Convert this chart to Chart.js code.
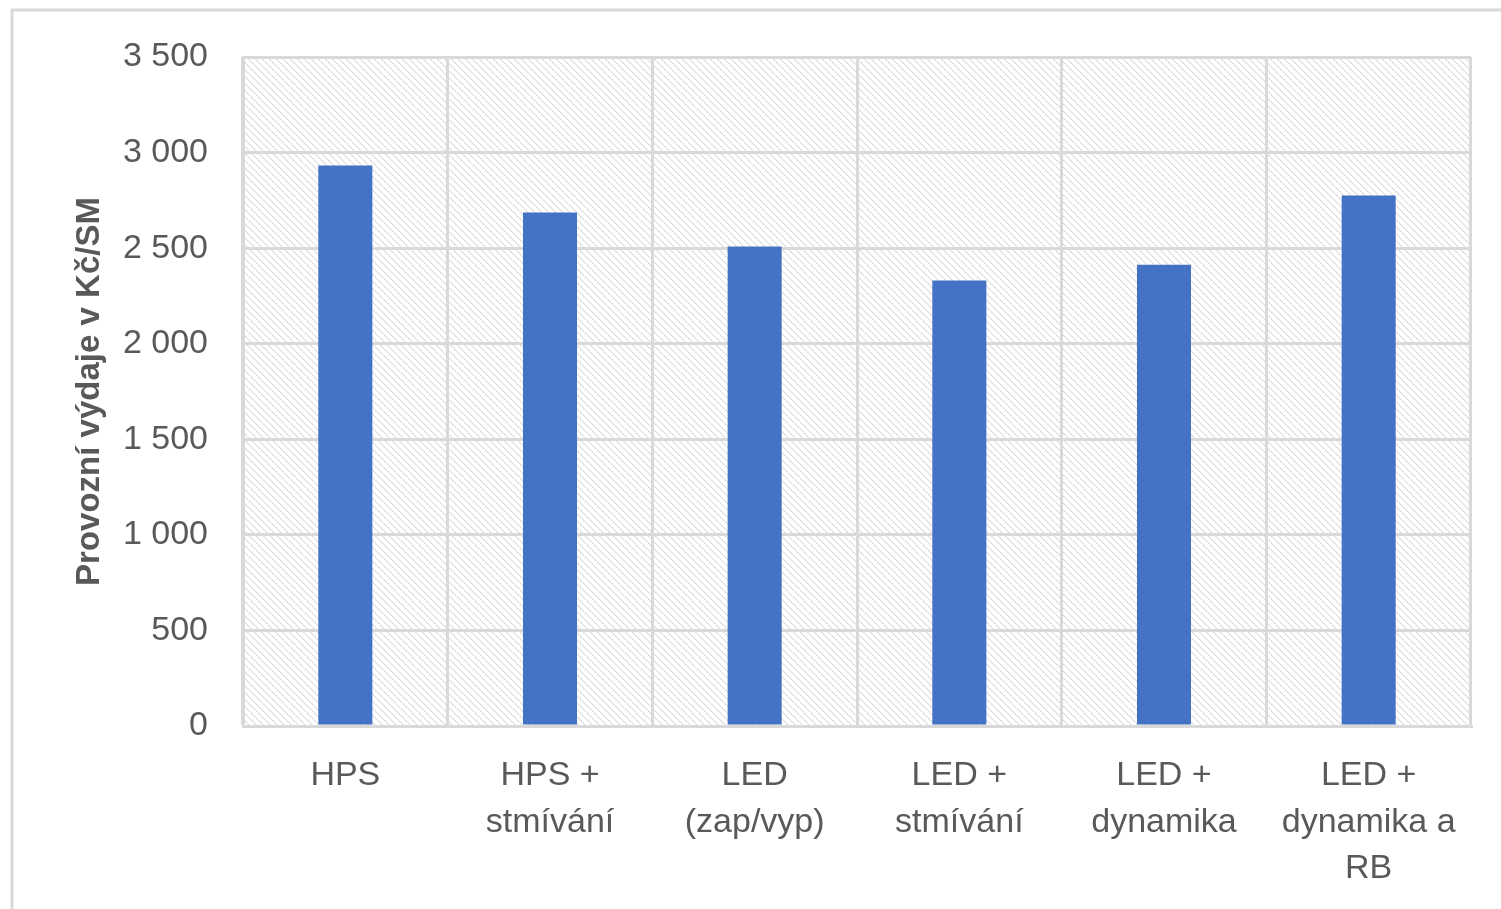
<!DOCTYPE html>
<html>
<head>
<meta charset="utf-8">
<script src="https://cdn.jsdelivr.net/npm/chart.js@4"></script>
<style>
  html, body { margin: 0; padding: 0; background: #ffffff; }
  #wrap { width: 1501px; height: 909px; position: relative; }
</style>
</head>
<body>
<div id="wrap"><canvas id="c" width="1501" height="909"></canvas></div>
<script>
// Operating costs per lighting scenario (Kč per lamp point)
const categories = [
  ["HPS"],
  ["HPS +", "stmívání"],
  ["LED", "(zap/vyp)"],
  ["LED +", "stmívání"],
  ["LED +", "dynamika"],
  ["LED +", "dynamika a", "RB"]
];
const values = [2932, 2687, 2509, 2331, 2413, 2775];
const axisTitle = "Provozní výdaje v Kč/SM";

const FONT = "'Liberation Sans Narrow', 'Liberation Sans', Arial, sans-serif";
const TEXT = "#595959";
const GRID = "#d9d9d9";

// Diagonal hatch tile used as the plot-area fill
function makeHatch() {
  const s = 7;
  const t = document.createElement("canvas");
  t.width = s; t.height = s;
  const g = t.getContext("2d");
  const img = g.createImageData(s, s);
  for (let y = 0; y < s; y++) {
    for (let x = 0; x < s; x++) {
      const d = ((x - y) % s + s) % s;
      let v = 255;
      if (d === 0) v = (y % 2 === 0) ? 212 : 226;
      else if (d === 1) v = 240;
      const i = (y * s + x) * 4;
      img.data[i] = v; img.data[i + 1] = v; img.data[i + 2] = v; img.data[i + 3] = 255;
    }
  }
  g.putImageData(img, 0, 0);
  return t;
}

const backdrop = {
  id: "backdrop",
  beforeDraw(chart) {
    const { ctx, chartArea: a } = chart;
    ctx.save();
    // outer frame
    ctx.strokeStyle = GRID;
    ctx.lineWidth = 3;
    ctx.strokeRect(12, 10, 1501, 909);
    // hatched plot area
    ctx.fillStyle = ctx.createPattern(makeHatch(), "repeat");
    ctx.fillRect(a.left, a.top, a.right - a.left, a.bottom - a.top);
    ctx.restore();
  }
};

const fmt = v => String(v).replace(/\B(?=(\d{3})+(?!\d))/g, " ");

new Chart(document.getElementById("c"), {
  type: "bar",
  data: {
    labels: categories,
    datasets: [{
      data: values,
      backgroundColor: "#4472c4",
      borderWidth: 0,
      barPercentage: 0.264,
      categoryPercentage: 1
    }]
  },
  options: {
    responsive: false,
    animation: false,
    layout: { padding: { top: 57, right: 30, left: 0, bottom: 0 } },
    plugins: { legend: { display: false }, tooltip: { enabled: false } },
    scales: {
      x: {
        grid: { color: GRID, lineWidth: 3, drawTicks: false, offset: true },
        border: { color: GRID, width: 3 },
        ticks: {
          color: TEXT,
          font: { family: FONT, size: 34, lineHeight: 1.36 },
          padding: 27,
          maxRotation: 0,
          autoSkip: false
        },
        afterFit(s) { s.height = 183; }
      },
      y: {
        min: 0,
        max: 3500,
        grid: { color: GRID, lineWidth: 3, drawTicks: false },
        border: { color: GRID, width: 3 },
        ticks: {
          stepSize: 500,
          color: TEXT,
          font: { family: FONT, size: 34 },
          padding: 35,
          callback: v => fmt(v)
        },
        title: {
          display: true,
          text: axisTitle,
          color: TEXT,
          font: { family: FONT, size: 33, weight: "bold", lineHeight: 1.2 },
          padding: { top: 70, bottom: 0 }
        },
        afterFit(s) { s.width = 243; }
      }
    }
  },
  plugins: [backdrop]
});
</script>
</body>
</html>
